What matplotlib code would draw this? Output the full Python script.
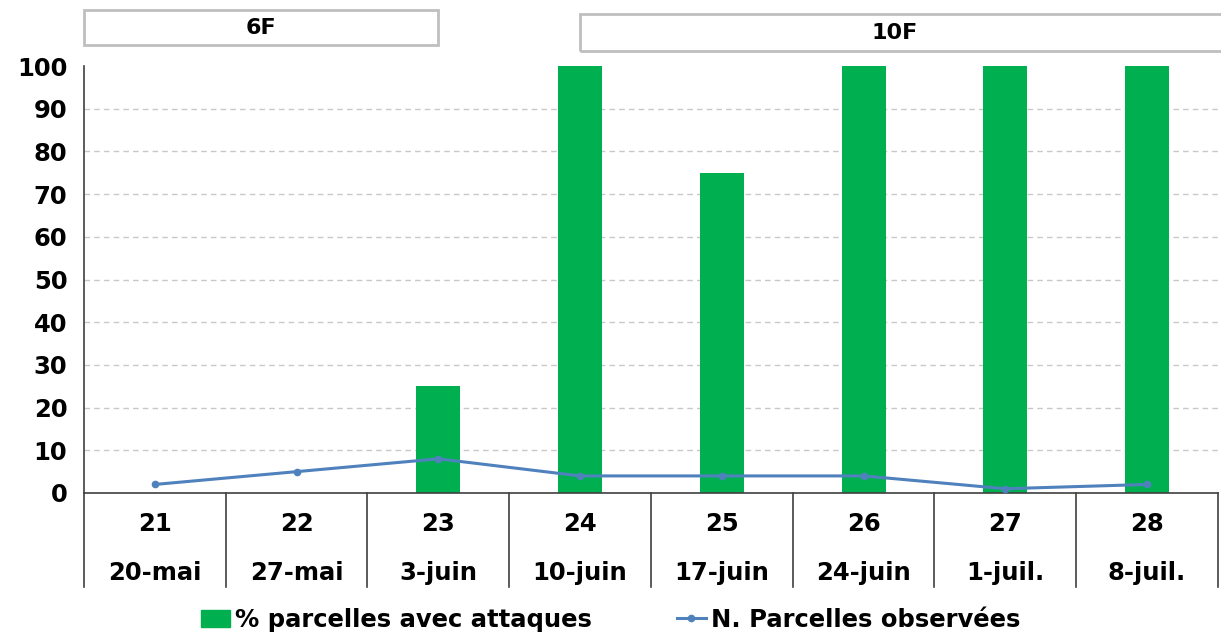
import matplotlib.pyplot as plt
import matplotlib.transforms as mtransforms
from matplotlib.patches import Rectangle
from matplotlib.lines import Line2D

semaines = ['21', '22', '23', '24', '25', '26', '27', '28']
dates = ['20-mai', '27-mai', '3-juin', '10-juin', '17-juin', '24-juin', '1-juil.', '8-juil.']
pct_attaques = [0, 0, 25, 100, 75, 100, 100, 100]
n_parcelles = [2, 5, 8, 4, 4, 4, 1, 2]

# stades : (libellé, début, fin, position du libellé) en position de catégorie
stades = [('6F', -0.5, 2.0, 0.75), ('10F', 3.0, 8.0, 5.22)]

vert = '#00b050'
bleu = '#4f81bd'
fs = 17.5

plt.rcParams['font.family'] = 'DejaVu Sans'
plt.rcParams['font.weight'] = 'bold'

fig = plt.figure(figsize=(12.21, 6.41), dpi=100)
ax = fig.add_axes([0.0688, 0.2309, 0.9287, 0.6661])

x = list(range(len(semaines)))
ax.bar(x, pct_attaques, width=0.31, color=vert, zorder=2)
ax.plot(x, n_parcelles, color=bleu, lw=2.2, marker='o', ms=4.5, zorder=3)

ax.set_xlim(-0.5, len(semaines) - 0.5)
ax.set_ylim(0, 100)
ax.set_yticks(range(0, 101, 10))
ax.tick_params(axis='y', length=0, labelsize=fs, pad=12)
ax.set_xticks([])
for t in ax.get_yticklabels():
    t.set_fontweight('bold')

# grille pointillée, sans trait à 100
for y in range(10, 100, 10):
    ax.axhline(y, ls=(0, (4, 3)), color='#c8c8c8', lw=1, zorder=1)
for s in ['top', 'right']:
    ax.spines[s].set_visible(False)
ax.spines['left'].set_color('#404040')
ax.spines['bottom'].set_color('#404040')
ax.spines['left'].set_linewidth(1.2)
ax.spines['bottom'].set_linewidth(1.2)

# axe des catégories à deux niveaux sous le graphique
trans = mtransforms.blended_transform_factory(ax.transData, ax.transAxes)
for b in range(len(semaines) + 1):
    ax.plot([b - 0.5, b - 0.5], [0, -0.22], transform=trans, color='#404040',
            lw=1.2, clip_on=False)
for i in x:
    ax.text(i, -0.073, semaines[i], transform=trans, ha='center', va='center',
            fontsize=fs, fontweight='bold')
    ax.text(i, -0.188, dates[i], transform=trans, ha='center', va='center',
            fontsize=fs, fontweight='bold')

# encadrés des stades au-dessus
ftrans = mtransforms.blended_transform_factory(ax.transData, fig.transFigure)
boites = [(0.930, 0.984), (0.920, 0.978)]
for (lab, x0, x1, xm), (y0, y1) in zip(stades, boites):
    ax.add_patch(Rectangle((x0, y0), x1 - x0, y1 - y0, transform=ftrans,
                           fill=False, ec='#bfbfbf', lw=2, clip_on=False))
    ax.text(xm, (y0 + y1) / 2, lab, transform=ftrans, ha='center', va='center',
            fontsize=16, fontweight='bold')

handles = [Rectangle((0, 0), 1, 1, color=vert),
           Line2D([], [], color=bleu, lw=2.2, marker='o', ms=4.5)]
fig.legend(handles, ['% parcelles avec attaques', 'N. Parcelles observées'],
           loc='center', bbox_to_anchor=(0.5, 0.033), ncol=2, frameon=False,
           prop={'size': fs, 'weight': 'bold'}, handlelength=1.2,
           handletextpad=0.2, columnspacing=3.5)

fig.savefig('out.png', dpi=100)
